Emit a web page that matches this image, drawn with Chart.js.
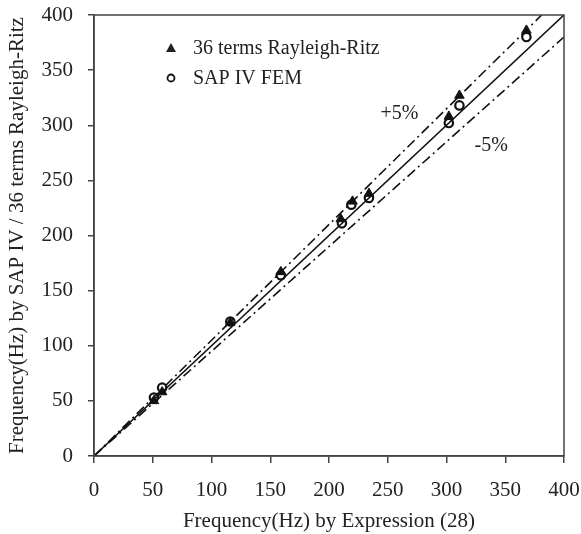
<!DOCTYPE html>
<html>
<head>
<meta charset="utf-8">
<script src="https://cdn.jsdelivr.net/npm/chart.js@4.4.1/dist/chart.umd.min.js"></script>
<style>
  html, body { margin: 0; padding: 0; background: #fff; }
  #wrap { width: 581px; height: 534px; }
</style>
</head>
<body>
<div id="wrap"><canvas id="chart"></canvas></div>
<script>
// points
const ritzX = [51, 58, 116, 159, 210, 220, 234, 302, 311, 368];
const ritzY = [50, 58, 121, 167, 215, 231, 238, 308, 327, 386];
const sapX = [51, 58, 116, 159, 211, 219, 234, 302, 311, 368];
const sapY = [53, 62, 122, 164, 211, 228, 234, 302, 318, 380];

// reference lines (exact, +5%, -5%)
const exactX = [0, 400];
const exactY = [0, 400];
const plusX = [0, 381];
const plusY = [0, 400];
const minusX = [0, 400];
const minusY = [0, 380];

const axisMin = 0;
const axisMax = 400;
const axisStep = 50;

const legendLabels = ['36 terms Rayleigh-Ritz', 'SAP IV FEM'];
const bandLabels = ['+5%', '-5%'];
const bandLabelX = [260, 338];
const bandLabelY = [310, 281];

const FONT = "'Liberation Serif', 'Times New Roman', serif";
const ink = '#111';

function toPoints(xs, ys) {
  return xs.map((x, i) => ({ x: x, y: ys[i] }));
}

const dashDot = [10, 4, 2, 4];

const framePlugin = {
  id: 'frame',
  afterDraw(chart) {
    const { ctx, chartArea: a, scales } = chart;
    ctx.save();
    ctx.strokeStyle = '#444';
    ctx.lineWidth = 1.5;
    ctx.strokeRect(a.left, a.top, a.right - a.left, a.bottom - a.top);

    // band labels
    ctx.fillStyle = '#222';
    ctx.font = '20px ' + FONT;
    ctx.textAlign = 'center';
    ctx.textBaseline = 'middle';
    bandLabels.forEach((t, i) => {
      ctx.fillText(t, scales.x.getPixelForValue(bandLabelX[i]), scales.y.getPixelForValue(bandLabelY[i]));
    });

    // legend inside the plot
    const lx = a.left + 77;
    const ly = a.top + 33;
    const gap = 30;
    ctx.textAlign = 'left';
    ctx.beginPath();
    ctx.moveTo(lx, ly - 5);
    ctx.lineTo(lx + 5, ly + 4);
    ctx.lineTo(lx - 5, ly + 4);
    ctx.closePath();
    ctx.fill();
    ctx.fillText(legendLabels[0], lx + 22, ly + 1);

    ctx.beginPath();
    ctx.arc(lx, ly + gap, 3.5, 0, Math.PI * 2);
    ctx.lineWidth = 1.8;
    ctx.strokeStyle = ink;
    ctx.stroke();
    ctx.fillText(legendLabels[1], lx + 22, ly + gap + 1);
    ctx.restore();
  }
};

const tickFont = { family: FONT, size: 21 };

new Chart(document.getElementById('chart'), {
  type: 'scatter',
  data: {
    datasets: [
      {
        type: 'line',
        data: toPoints(exactX, exactY),
        borderColor: ink,
        borderWidth: 1.6,
        pointRadius: 0,
        fill: false
      },
      {
        type: 'line',
        data: toPoints(plusX, plusY),
        borderColor: ink,
        borderWidth: 1.6,
        borderDash: dashDot,
        pointRadius: 0,
        fill: false
      },
      {
        type: 'line',
        data: toPoints(minusX, minusY),
        borderColor: ink,
        borderWidth: 1.6,
        borderDash: dashDot,
        pointRadius: 0,
        fill: false
      },
      {
        label: legendLabels[0],
        data: toPoints(ritzX, ritzY),
        pointStyle: 'triangle',
        pointRadius: 5.5,
        backgroundColor: ink,
        borderColor: ink,
        borderWidth: 1
      },
      {
        label: legendLabels[1],
        data: toPoints(sapX, sapY),
        pointStyle: 'circle',
        pointRadius: 4.2,
        backgroundColor: '#fff',
        borderColor: ink,
        borderWidth: 2.2
      }
    ]
  },
  options: {
    responsive: true,
    maintainAspectRatio: false,
    animation: false,
    layout: { padding: { top: 15, right: 17, bottom: 0, left: 0 } },
    plugins: {
      legend: { display: false },
      tooltip: { enabled: false }
    },
    scales: {
      x: {
        type: 'linear',
        min: axisMin,
        max: axisMax,
        afterFit(scale) {
          scale.height = 78;
          scale.paddingLeft = 0;
          scale.paddingRight = 0;
        },
        ticks: { stepSize: axisStep, color: '#222', font: tickFont, padding: 15 },
        grid: { drawOnChartArea: false, tickLength: 7, color: '#444', lineWidth: 1.5 },
        border: { color: '#444', width: 1.5 },
        title: {
          display: true,
          text: 'Frequency(Hz) by Expression (28)',
          color: '#222',
          font: tickFont,
          padding: { top: 0, bottom: 0 }
        }
      },
      y: {
        type: 'linear',
        min: axisMin,
        max: axisMax,
        afterFit(scale) {
          scale.width = 94;
          scale.paddingTop = 0;
          scale.paddingBottom = 0;
        },
        ticks: { stepSize: axisStep, color: '#222', font: tickFont, padding: 15 },
        grid: { drawOnChartArea: false, tickLength: 6, color: '#444', lineWidth: 1.5 },
        border: { color: '#444', width: 1.5 },
        title: {
          display: true,
          text: 'Frequency(Hz) by SAP IV / 36 terms Rayleigh-Ritz',
          color: '#222',
          font: tickFont,
          padding: { top: 5, bottom: 0 }
        }
      }
    }
  },
  plugins: [framePlugin]
});
</script>
</body>
</html>
